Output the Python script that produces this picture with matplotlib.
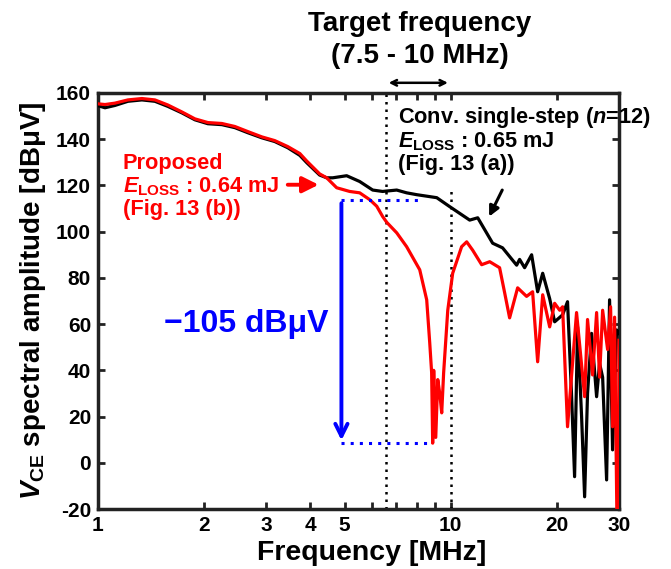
import numpy as np
import matplotlib
matplotlib.use("Agg")
import matplotlib.pyplot as plt

plt.rcParams['font.family'] = ['Liberation Sans', 'DejaVu Sans']
plt.rcParams['font.weight'] = 'bold'
plt.rcParams['axes.labelweight'] = 'bold'
plt.rcParams['axes.unicode_minus'] = False
plt.rcParams['mathtext.fontset'] = 'custom'
plt.rcParams['mathtext.rm'] = 'Liberation Sans:bold'
plt.rcParams['mathtext.bf'] = 'Liberation Sans:bold'
plt.rcParams['mathtext.it'] = 'Liberation Sans:italic:bold'

# conventional single-step (black)
conv_f = [1.0, 1.047, 1.117, 1.216, 1.332, 1.45, 1.578, 1.729, 1.883, 2.049,
          2.245, 2.444, 2.66, 2.915, 3.17, 3.453, 3.735, 3.91, 4.25, 4.45,
          4.63, 5.07, 5.52, 6.01, 6.41, 7.03, 7.5, 8.01, 9.13, 9.94,
          11.32, 11.93, 13.15, 14.03, 15.38, 15.68, 16.2, 16.96, 17.64, 18.23,
          19.08, 19.71, 20.76, 21.44, 22.0, 22.45, 22.89, 23.5, 23.97, 24.43,
          25.08, 25.92, 26.43, 26.96, 27.67, 28.21, 28.77, 29.53, 30.0]
conv_db = [154.5, 153.6, 154.6, 156.4, 157.0, 156.4, 154.2, 151.4, 148.4, 146.7,
           146.3, 145.0, 142.8, 140.6, 139.0, 136.3, 133.0, 129.8, 124.5, 123.3,
           123.3, 124.2, 121.7, 118.0, 117.4, 118.0, 116.8, 116.0, 114.7, 110.8,
           105.0, 106.0, 95.0, 93.0, 85.5, 88.0, 84.4, 90.0, 74.0, 82.0,
           71.0, 61.0, 64.0, 69.7, 30.0, -6.0, 58.8, 20.0, -14.7, 30.0,
           56.0, 28.6, 43.0, 37.0, -7.4, 70.5, 5.6, 57.5, 56.0]

# proposed (red)
prop_f = [1.0, 1.047, 1.117, 1.216, 1.332, 1.45, 1.578, 1.729, 1.883, 2.049,
          2.245, 2.444, 2.66, 2.915, 3.17, 3.453, 3.735, 3.91, 4.25, 4.45,
          4.75, 5.17, 5.52, 5.90, 6.17, 6.41, 6.59, 7.03, 7.5, 8.17,
          8.55, 8.72, 8.83, 8.89, 8.95, 9.07, 9.19, 9.31, 9.43, 9.55,
          9.81, 10.13, 10.74, 11.1, 11.54, 12.24, 12.9, 13.76, 14.22, 14.69,
          15.48, 16.41, 17.07, 17.64, 18.23, 19.08, 19.71, 20.37, 20.76, 21.44,
          22.74, 23.97, 24.43, 25.25, 25.92, 26.43, 26.96, 27.85, 28.4, 28.77,
          29.15, 29.6, 29.9, 30.0]
prop_db = [155.3, 155.0, 155.6, 157.0, 157.6, 157.0, 154.8, 151.8, 148.8, 147.2,
           146.8, 145.5, 143.3, 141.0, 139.4, 136.8, 133.8, 130.5, 125.0, 123.3,
           119.0, 117.4, 116.8, 113.8, 111.0, 106.6, 104.0, 99.5, 93.5, 83.5,
           70.5, 52.0, 39.0, 8.5, 40.0, 11.0, 36.0, 30.0, 21.6, 39.0,
           66.0, 82.0, 93.5, 95.6, 92.0, 85.7, 87.0, 84.4, 73.6, 62.7,
           75.7, 72.0, 74.0, 43.7, 72.7, 58.8, 69.0, 66.0, 67.5, 15.6,
           65.0, 28.6, 62.0, 38.0, 65.0, 37.0, 66.0, 49.0, 67.5, 15.6,
           63.0, -25.0, -25.0, 53.0]

xticks = [1, 2, 3, 4, 5, 10, 20, 30]
yticks = list(range(-20, 161, 20))
target_lo, target_hi = 6.55, 10.0
att_top, att_bot, att_f = 113.5, 8.5, 4.9

fig = plt.figure(figsize=(6.71, 5.69), dpi=100)
ax = fig.add_axes([0.146, 0.1054, 0.7765, 0.7312])

ax.plot(conv_f, conv_db, color='black', lw=2.3, zorder=3)
ax.plot(prop_f, prop_db, color='#ff0000', lw=2.3, zorder=4)

ax.set_xscale('log')
ax.set_xlim(1, 30)
ax.set_ylim(-20, 160)
ax.set_xticks(xticks)
ax.set_xticklabels([str(t) for t in xticks])
ax.set_xticks([6, 7, 8, 9], minor=True)
ax.set_xticklabels([], minor=True)
ax.set_yticks(yticks)
ax.tick_params(which='both', direction='in', top=True, right=True,
               length=5, width=2, color='#222222', labelsize=15, pad=5)
for s in ax.spines.values():
    s.set_linewidth(2.5)
    s.set_color('#222222')

ax.set_xlabel('Frequency [MHz]', fontsize=20.5)
ax.xaxis.set_label_coords(0.526, -0.075)
ax.set_ylabel(r'$V_{\rm CE}$ spectral amplitude [dBμV]', fontsize=20, labelpad=6)

# target band
ax.axvline(target_lo, color='black', ls=(0, (1, 2)), lw=1.8, zorder=2)
ax.plot([target_hi, target_hi], [-20, 118], color='black', ls=(0, (1, 2)), lw=1.8, zorder=2)
ax.annotate('', xy=(target_lo, 164.4), xytext=(target_hi, 164.4),
            arrowprops=dict(arrowstyle='<->', color='black', lw=1.8),
            annotation_clip=False)
fig.text(0.626, 0.958, 'Target frequency', ha='center', va='center', fontsize=20)
fig.text(0.626, 0.901, '(7.5 - 10 MHz)', ha='center', va='center', fontsize=20)

# attenuation marker
ax.plot([att_f, 8.3], [att_top, att_top], color='#0000ff', ls=(0, (1, 2)), lw=2.2, zorder=5)
ax.plot([att_f, 8.85], [att_bot, att_bot], color='#0000ff', ls=(0, (1, 2)), lw=2.2, zorder=5)
ax.annotate('', xy=(att_f, att_bot), xytext=(att_f, att_top),
            arrowprops=dict(arrowstyle='->', color='#0000ff', lw=2.8, mutation_scale=22))
ax.text(2.64, 60, '−105 dBμV', color='#0000ff', ha='center', va='center', fontsize=23)

# labels
ax.text(1.177, 119.5, 'Proposed\n' + r'$E_{\rm LOSS}$ : 0.64 mJ' + '\n(Fig. 13 (b))',
        color='#ff0000', fontsize=15.7, ha='left', va='center', linespacing=1.05)
ax.annotate('', xy=(4.3, 120.3), xytext=(3.39, 120.3),
            arrowprops=dict(arrowstyle='-|>', color='#ff0000', lw=2.8, mutation_scale=24))
ax.text(7.08, 139.8, 'Conv. single-step (' + r'$n$' + '=12)\n' + r'$E_{\rm LOSS}$ : 0.65 mJ'
        + '\n(Fig. 13 (a))', color='black', fontsize=15.7, ha='left', va='center',
        linespacing=1.05)
ax.annotate('', xy=(12.85, 106.5), xytext=(14.0, 118.0),
            arrowprops=dict(arrowstyle='-|>', color='black', lw=2.2, mutation_scale=15,
                            shrinkA=0, shrinkB=0))

fig.savefig('out.png', dpi=100)
